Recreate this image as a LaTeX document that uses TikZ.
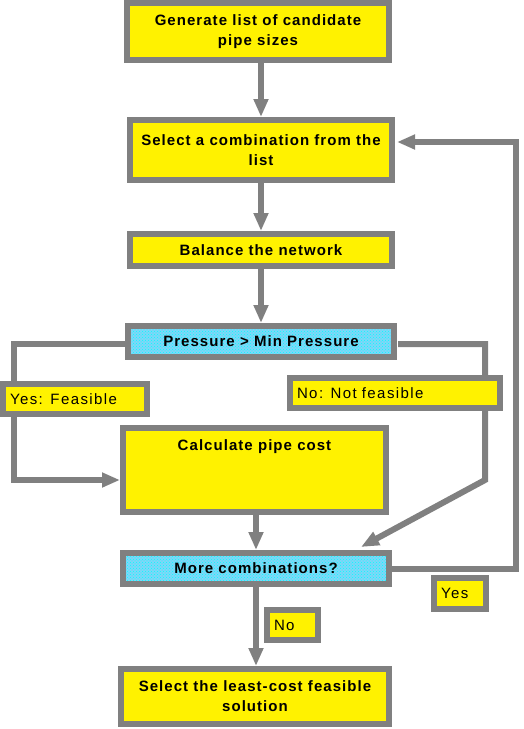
\documentclass[tikz,border=0pt]{standalone}
\usepackage{fontspec}
\newfontfamily\boxfont[LetterSpace=7]{Liberation Sans}
\newfontfamily\tagfont[LetterSpace=9.5]{Liberation Sans}
\usetikzlibrary{arrows.meta,patterns}

\begin{document}
\begin{tikzpicture}[
  x=1pt,y=-1pt,>={Triangle[width=14pt,length=18pt]},
  box/.style={draw=gray,line width=6pt,inner sep=0pt,align=center,
    font=\boxfont\bfseries\fontsize{15}{20}\selectfont},
  stage/.style={box,fill=yellow},
  test/.style={box,preaction={fill=cyan!50},pattern=crosshatch dots,
    pattern color=cyan},
  tag/.style={draw=gray,line width=6pt,fill=yellow,align=left,
    inner xsep=7pt,inner ysep=0pt,font=\tagfont\fontsize{15}{20}\selectfont},
  flow/.style={->,draw=gray,line width=6pt}
]
\useasboundingbox (0,0) rectangle (523,729);
\node[stage,minimum width=262pt,minimum height=57pt] (gen) at (258,31.5)
  {Generate list of candidate\\pipe sizes};
\node[stage,minimum width=262pt,minimum height=60pt] (sel) at (261,150)
  {Select a combination from the\\list};
\node[stage,minimum width=262pt,minimum height=32pt] (bal) at (261,250)
  {Balance the network};
\node[test,minimum width=266pt,minimum height=31pt] (pres) at (261,341.5)
  {Pressure > Min Pressure};
\node[stage,minimum width=263pt,text height=11pt,text depth=51pt,
  inner ysep=11pt] (calc) at (254.5,470) {Calculate pipe cost};
\node[test,minimum width=266pt,minimum height=31pt] (more) at (256,568.5)
  {More combinations?};
\node[stage,minimum width=268pt,minimum height=55pt] (best) at (255,696.5)
  {Select the least-cost feasible\\solution};

\draw[flow] (gen.south -| sel.north) -- (sel.north);
\foreach \a/\b in {sel/bal,bal/pres}
  \draw[flow] (\a) -- (\b);
\draw[flow] (calc.south -| more.north) -- (more.north);
\draw[flow] (more.south) -- (more.south |- best.north);
\draw[flow] ([yshift=-2.5pt]pres.west) -- ++(-111,0)
  |- ([yshift=-10pt]calc.west);
\draw[flow] ([shift={(1pt,-2.5pt)}]pres.east) -- ++(87,0) -- ++(0,136)
  -- ([shift={(105pt,3pt)}]more.north);
\draw[flow] (more.east) -- ++(124,0) |- ([shift={(2pt,8pt)}]sel.east);

\node[tag,text width=130pt,minimum height=30pt] (feas) at (75,399)
  {Yes: Feasible};
\node[tag,text width=196pt,minimum height=30pt] (notf) at (395,393)
  {No: Not feasible};
\node[tag,text width=38pt,minimum height=31pt] (yes) at (460,593.5) {Yes};
\node[tag,text width=37pt,minimum height=30pt] (no) at (292.5,625) {No};
\end{tikzpicture}
\end{document}
